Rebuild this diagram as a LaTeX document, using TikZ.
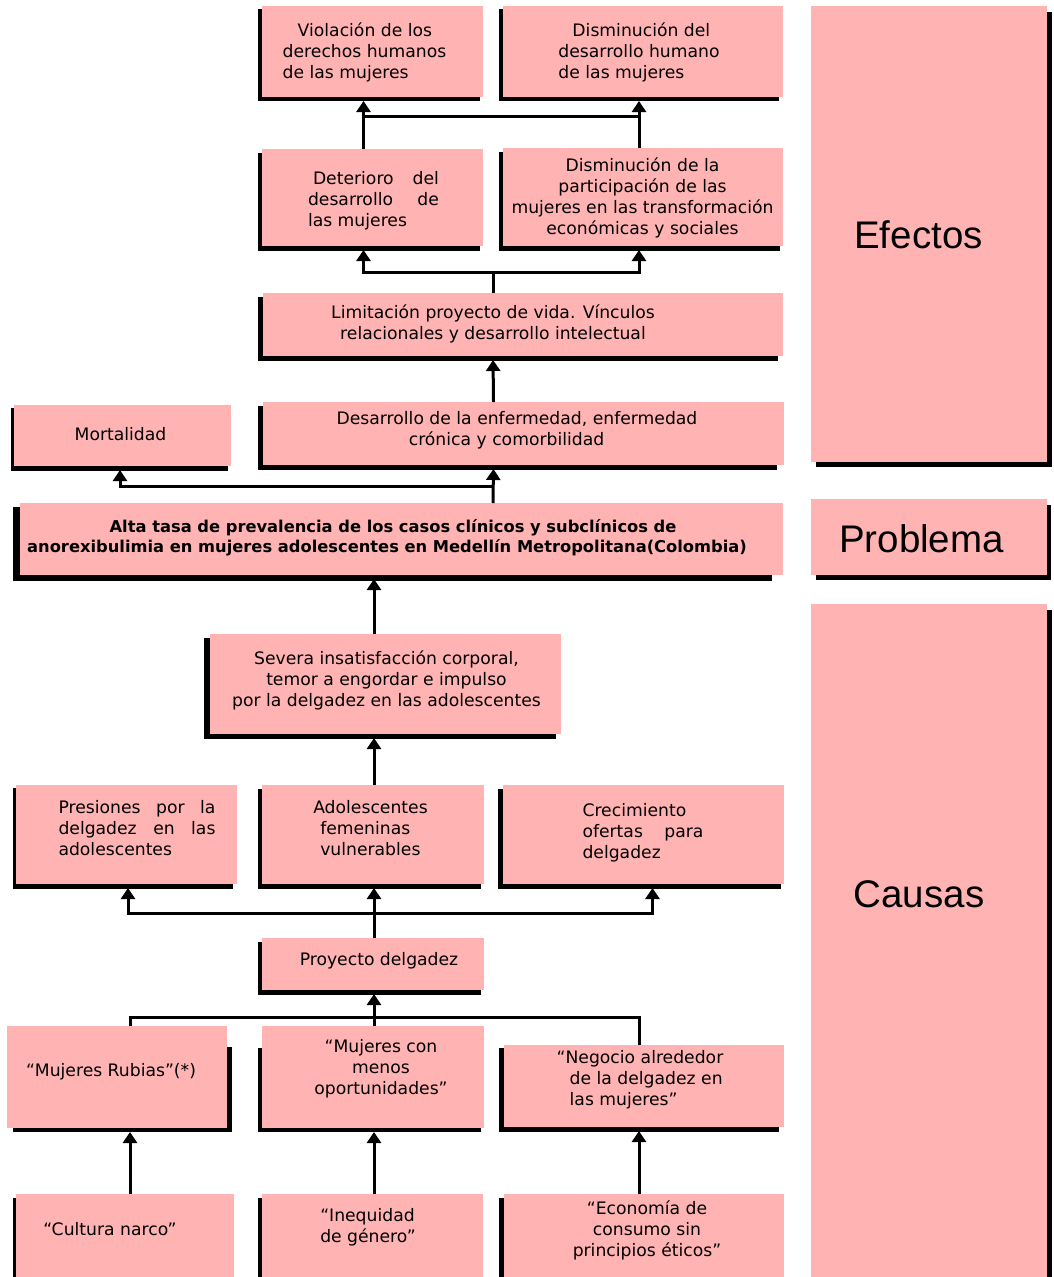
\documentclass[tikz,border=0pt]{standalone}
\usepackage{fontspec}
\setmainfont{DejaVu Sans}
\newfontfamily\sidefont{Liberation Sans}
\usetikzlibrary{arrows.meta,backgrounds}
\definecolor{pinkc}{RGB}{255,179,179}
% box: name, L, T, R, B, style, content
\newcommand\bx[7]{\node[#6, minimum width={(#4-#2)*1pt}, minimum height={(#5-#3)*1pt}] (#1) at ({(#2+#4)/2},{(#3+#5)/2}) {#7};}
% text block: dx, raise, column type, lines
\newcommand\tb[4]{\raisebox{#2pt}[0pt][0pt]{\makebox[0pt][c]{\hspace*{#1pt}\hspace*{#1pt}\begin{tabular}[c]{@{}#3@{}}#4\end{tabular}}}}
% shadow: name, dx-left, dy-top, dx-right, dy-bottom
\newcommand\shd[5]{\fill[black] ([shift={(#2,#3)}]#1.north west) rectangle ([shift={(#4,#5)}]#1.south east);}
\tikzset{
  box/.style={fill=pinkc, draw=none, inner sep=0pt, outer sep=0pt, font=\fontsize{17.2}{21}\selectfont},
  boldbox/.style={box, font=\fontsize{16.3}{20}\selectfont\bfseries},
  sidebox/.style={box, font=\sidefont\fontsize{38.5}{46}\selectfont},
  arr/.style={line width=3pt, -{Triangle[width=14pt,length=11pt]}, shorten >=4pt},
  link/.style={line width=3pt}
}
\begin{document}
\begin{tikzpicture}[x=1pt,y=-1pt]
\useasboundingbox (0,0) rectangle (1053,1277);
% Effects
\bx{v1}{262}{6}{483}{97}{box}{\tb{-8}{-5.8}{l}{\hspace*{15pt}Violación de los\\derechos humanos\\de las mujeres}}
\bx{v2}{503}{6}{783}{97}{box}{\tb{-4}{-6.3}{l}{\hspace*{14pt}Disminución del\\desarrollo humano\\de las mujeres}}
\bx{d1}{262}{149}{483}{246}{box}{\tb{1}{-8.3}{l}{\hspace*{5pt}\makebox[126pt][s]{Deterioro del}\\\makebox[131pt][s]{desarrollo de}\\las mujeres}}
\bx{d2}{503}{148}{783}{246}{box}{\tb{-0.5}{-6.3}{c}{Disminución de la\\participación de las\\mujeres en las transformación\\económicas y sociales}}
\bx{lim}{263}{293}{783}{356}{box}{\tb{-30}{-4.8}{c}{Limitación proyecto de vida. Vínculos\\relacionales y desarrollo intelectual}}
\bx{mort}{14}{405}{231}{466}{box}{\tb{-2}{-5.3}{c}{Mortalidad}}
\bx{des}{263}{402}{784}{465}{box}{\tb{-6.5}{-1.3}{c}{Desarrollo de la enfermedad, enfermedad\\crónica y comorbilidad\kern21pt}}
% Problem
\bx{alta}{20}{503}{783}{575}{boldbox}{\tb{-14.5}{-3.8}{c}{\kern12pt Alta tasa de prevalencia de los casos clínicos y subclínicos de\\anorexibulimia en mujeres adolescentes en Medellín Metropolitana(Colombia)}}
% Causes
\bx{sev}{210}{634}{561}{734}{box}{\tb{1}{-1.3}{c}{Severa insatisfacción corporal,\\temor a engordar e impulso\\por la delgadez en las adolescentes}}
\bx{pres}{16}{785}{237}{884}{box}{\tb{10.5}{0.2}{l}{\makebox[157pt][s]{Presiones por la}\\\makebox[157pt][s]{delgadez en las}\\adolescentes}}
\bx{adol}{262}{785}{484}{884}{box}{\tb{-2.5}{0.2}{l}{Adolescentes\\\hspace*{7pt}femeninas\\\hspace*{7pt}vulnerables}}
\bx{crec}{503}{785}{784}{884}{box}{\tb{-0.5}{-3.3}{l}{Crecimiento\\\makebox[121pt][s]{ofertas para}\\delgadez}}
\bx{proy}{262}{938}{484}{990}{box}{\tb{6}{-1.3}{c}{Proyecto delgadez}}
\bx{rub}{7}{1026}{227}{1128}{box}{\tb{-6}{0.2}{c}{“Mujeres Rubias”(*)}}
\bx{men}{262}{1026}{484}{1128}{box}{\tb{8}{3.7}{c}{“Mujeres con\\menos\\oportunidades”}}
\bx{neg}{504}{1045}{784}{1127}{box}{\tb{-4}{1.2}{l}{“Negocio alrededor\\\hspace*{13pt}de la delgadez en\\\hspace*{13pt}las mujeres”}}
\bx{cul}{16}{1194}{234}{1277}{box}{\tb{-15}{-0.3}{c}{“Cultura narco”}}
\bx{ineq}{262}{1194}{483}{1277}{box}{\tb{-4.5}{3.2}{l}{“Inequidad\\de género”}}
\bx{eco}{504}{1194}{784}{1277}{box}{\tb{3}{0.2}{c}{“Economía de\\consumo sin\\principios éticos”}}
% Side labels
\bx{efe}{811}{6}{1047}{462}{sidebox}{\tb{-10.5}{-12}{c}{Efectos}}
\bx{prob}{811}{499}{1047}{575}{sidebox}{\tb{-7.5}{-12.3}{c}{Problema}}
\bx{cau}{811}{604}{1047}{1277}{sidebox}{\tb{-10}{36}{c}{Causas}}
% Shadows
\begin{scope}[on background layer]
\shd{v1}{-4}{3}{-3}{4}
\shd{v2}{-4}{3}{-4}{4}
\shd{d1}{-4}{4}{-3}{5}
\shd{d2}{-4}{4}{-3}{5}
\shd{lim}{-5}{4}{-5}{5}
\shd{mort}{-3}{3}{-3}{5}
\shd{des}{-5}{4}{-7}{5}
\shd{alta}{-7}{4}{-11}{6}
\shd{sev}{-6}{4}{-5}{5}
\shd{pres}{-3}{3}{-4}{5}
\shd{adol}{-4}{4}{-3}{5}
\shd{crec}{-5}{4}{-3}{5}
\shd{proy}{-4}{4}{-3}{5}
\shd{rub}{6}{21}{5}{4}
\shd{men}{-4}{22}{-3}{4}
\shd{neg}{-5}{3}{-5}{5}
\shd{cul}{-3}{4}{-3}{5}
\shd{ineq}{-4}{4}{-3}{5}
\shd{eco}{-5}{4}{-3}{5}
\shd{efe}{5}{6}{5}{5}
\shd{prob}{5}{6}{4}{5}
\shd{cau}{5}{6}{5}{5}
\end{scope}
% Connectors
\coordinate (j1) at (363.5,116);
\coordinate (j2) at (639,116);
\coordinate (j3) at (493,272);
\coordinate (j4) at (493,486);
\coordinate (j5) at (374,913);
\coordinate (j6) at (374,1017);
\draw[arr] ([xshift=-9pt]d1.north) -- ([xshift=-9pt]v1.south);
\draw[arr] ([xshift=-4pt]d2.north) -- ([xshift=-4pt]v2.south);
\draw[link] (j1) -- (j2);
\draw[link] ([xshift=-30pt]lim.north) -- (j3);
\draw[arr] (j3) -| ([xshift=-9pt]d1.south);
\draw[arr] (j3) -| ([xshift=-4pt]d2.south);
\draw[arr] ([xshift=-30pt]des.north) -- ([xshift=-30pt]lim.south);
\draw[arr] ([xshift=91.5pt]alta.north) -- ([xshift=-30pt]des.south);
\draw[arr] (j4) -| ([xshift=-2.5pt]mort.south);
\draw[arr] ([xshift=-11.5pt]sev.north) -- ([xshift=-27.5pt]alta.south);
\draw[arr] ([xshift=1pt]adol.north) -- ([xshift=-11.5pt]sev.south);
\draw[arr] ([xshift=1pt]proy.north) -- ([xshift=1pt]adol.south);
\draw[arr] (j5) -| ([xshift=1.5pt]pres.south);
\draw[arr] (j5) -| ([xshift=9pt]crec.south);
\draw[arr] ([xshift=1pt]men.north) -- ([xshift=1pt]proy.south);
\draw[link] (j6) -| ([xshift=13pt]rub.north);
\draw[link] (j6) -| ([xshift=-5pt]neg.north);
\draw[arr] ([xshift=5pt]cul.north) -- ([xshift=13pt]rub.south);
\draw[arr] ([xshift=1.5pt]ineq.north) -- ([xshift=1pt]men.south);
\draw[arr] ([xshift=-5pt]eco.north) -- ([xshift=-5pt]neg.south);
\end{tikzpicture}
\end{document}
